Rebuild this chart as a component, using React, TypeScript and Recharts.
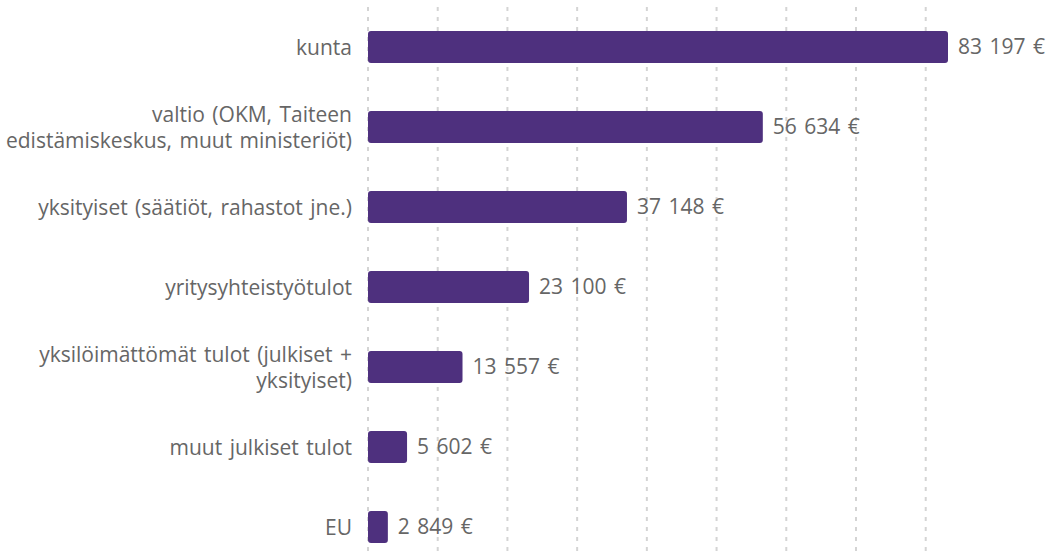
import { BarChart, Bar, XAxis, YAxis, CartesianGrid, LabelList } from 'recharts';

// Rahoituslähteet, euroa
const categories = [
  'kunta',
  'valtio (OKM, Taiteen edistämiskeskus, muut ministeriöt)',
  'yksityiset (säätiöt, rahastot jne.)',
  'yritysyhteistyötulot',
  'yksilöimättömät tulot (julkiset + yksityiset)',
  'muut julkiset tulot',
  'EU',
];
const values = [83197, 56634, 37148, 23100, 13557, 5602, 2849];
const xTicks = [0, 10000, 20000, 30000, 40000, 50000, 60000, 70000, 80000];

const data = categories.map((name, i) => ({ name, value: values[i] }));

const FONT = '"Open Sans", sans-serif';
const TEXT = '#666666';
const BAR = '#4e307e';

const euro = (v: number) => `${String(v).replace(/\B(?=(\d{3})+(?!\d))/g, ' ')} €`;

// rivitys: ahne, max 35 merkkiä riville
function wrap(s: string, max = 35): string[] {
  const out: string[] = [];
  let line = '';
  for (const w of s.split(' ')) {
    const next = line ? `${line} ${w}` : w;
    if (next.length > max && line) {
      out.push(line);
      line = w;
    } else line = next;
  }
  if (line) out.push(line);
  return out;
}

function CategoryTick({ x, y, payload }: any) {
  const lines = wrap(String(payload.value));
  const lh = 26;
  const y0 = y - ((lines.length - 1) * lh) / 2;
  return (
    <text
      x={x}
      y={y0}
      textAnchor="end"
      dominantBaseline="central"
      fill={TEXT}
      fontFamily={FONT}
      fontSize={21}
      style={{ wordSpacing: 2 }}
    >
      {lines.map((l, i) => (
        <tspan key={i} x={x} y={y0 + i * lh} dominantBaseline="central">{l}</tspan>
      ))}
    </text>
  );
}

export default function App() {
  return (
    <div style={{ position: 'absolute', left: 0, top: 0, width: 1050, height: 554, overflow: 'hidden', background: '#fff' }}>
      <BarChart
        width={1050}
        height={570}
        data={data}
        layout="vertical"
        margin={{ top: 7, right: 102, bottom: 3, left: 0 }}
        barCategoryGap={0}
      >
        <CartesianGrid horizontal={false} stroke="#d4d4d4" strokeWidth={2} strokeDasharray="4 6" verticalValues={xTicks} />
        <XAxis type="number" domain={[0, 'dataMax']} ticks={xTicks} hide />
        <YAxis
          type="category"
          dataKey="name"
          width={368}
          axisLine={false}
          tickLine={false}
          tickMargin={10}
          interval={0}
          tick={<CategoryTick />}
        />
        <Bar dataKey="value" fill={BAR} barSize={32} radius={3} isAnimationActive={false}>
          <LabelList
            dataKey="value"
            position="right"
            offset={10}
            formatter={(v: any) => euro(Number(v))}
            style={{ fill: TEXT, fontFamily: FONT, fontSize: 21, wordSpacing: 2 }}
          />
        </Bar>
      </BarChart>
    </div>
  );
}
